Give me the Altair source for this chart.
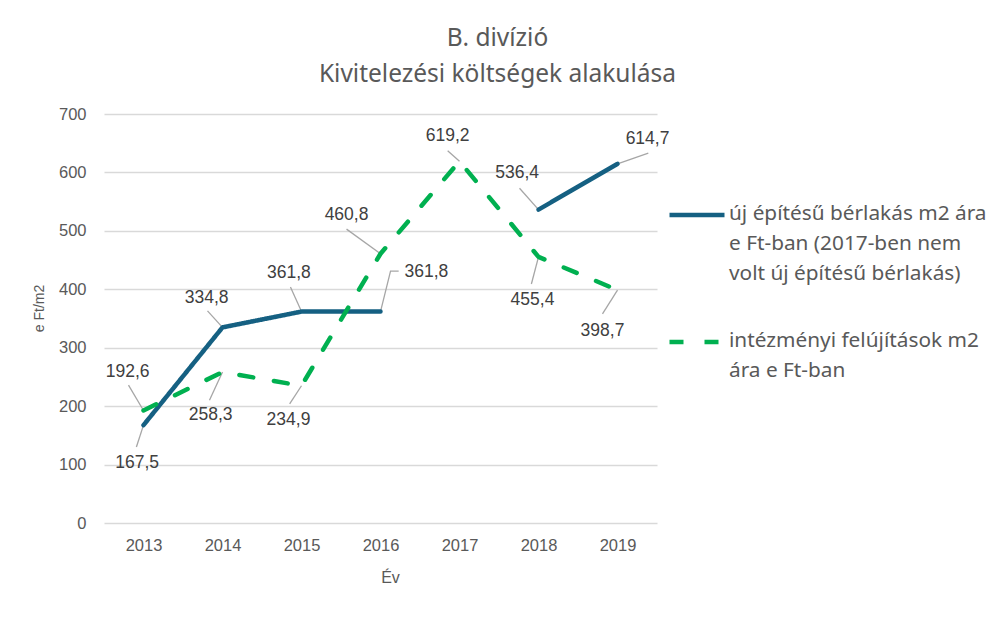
import altair as alt
import pandas as pd

# ---- data ----
years = [2013, 2014, 2015, 2016, 2017, 2018, 2019]
series_names = [
    "új építésű bérlakás m2 ára\ne Ft-ban (2017-ben nem\nvolt új építésű bérlakás)",
    "intézményi felújítások m2\nára e Ft-ban",
]
blue_values = [167.5, 334.8, 361.8, 361.8, None, 536.4, 614.7]
green_values = [192.6, 258.3, 234.9, 460.8, 619.2, 455.4, 398.7]

# data-label anchors (year offset, value) and leader-line vertices
blue_label_dx = [-0.08, -0.20, -0.16, 0.58, None, -0.27, 0.38]
blue_label_v = [102, 385, 428, 430, None, 599, 657]
blue_leader = [[(-0.09, 130)], [(-0.19, 363)], [(-0.14, 404)],
               [(0.127, 431), (0.23, 431)], None, [(-0.24, 573)], [(0.39, 633)]]
green_label_dx = [-0.20, -0.15, -0.165, -0.43, -0.15, -0.076, -0.19]
green_label_v = [258, 185, 176, 527, 662, 382, 329]
green_leader = [[(-0.19, 236)], [(-0.165, 210)], [(-0.15, 204)], [(-0.43, 503)],
                [(-0.15, 637)], [(-0.09, 409)], [(-0.19, 358)]]

colors = ["#156082", "#00B050"]
dashes = [[1, 0], [14, 21]]

# ---- tables ----
line_rows, label_rows, leader_rows = [], [], []
all_vals = [blue_values, green_values]
all_dx = [blue_label_dx, green_label_dx]
all_lv = [blue_label_v, green_label_v]
all_leader = [blue_leader, green_leader]
for s, name in enumerate(series_names):
    seg = 0
    for i, yr in enumerate(years):
        v = all_vals[s][i]
        if v is None:
            seg += 1
            continue
        line_rows.append({"year": yr, "value": v, "series": name, "seg": f"{s}-{seg}"})
        label_rows.append({"x": yr + all_dx[s][i], "y": all_lv[s][i],
                           "text": f"{v:.1f}".replace(".", ",")})
        pts = [(yr, v)] + [(yr + dx, vv) for dx, vv in all_leader[s][i]]
        for k, (px, py) in enumerate(pts):
            leader_rows.append({"x": px, "y": py, "id": f"{s}-{i}", "k": k})

lines_df = pd.DataFrame(line_rows)
labels_df = pd.DataFrame(label_rows)
leaders_df = pd.DataFrame(leader_rows)

xscale = alt.Scale(domain=[2012.5, 2019.5], nice=False, zero=False)
yscale = alt.Scale(domain=[0, 700], nice=False)

LABEL_DY = -11

leaders = alt.Chart(leaders_df).mark_line(color="#A6A6A6", strokeWidth=1.3).encode(
    x=alt.X("x:Q", scale=xscale),
    y=alt.Y("y:Q", scale=yscale),
    detail="id:N",
    order="k:Q",
)

lines = alt.Chart(lines_df).mark_line(strokeWidth=4.5, strokeCap="round", strokeJoin="round").encode(
    x=alt.X("year:Q", scale=xscale,
            axis=alt.Axis(values=years, format="d", title="Év", grid=False, domain=False,
                          ticks=False, labelPadding=14 - LABEL_DY, titlePadding=16,
                          titleX=286)),
    y=alt.Y("value:Q", scale=yscale,
            axis=alt.Axis(values=list(range(0, 701, 100)), title="e Ft/m2", domain=False,
                          ticks=False, labelPadding=18, labelOffset=-LABEL_DY,
                          titlePadding=12, titleFontSize=14, titleY=194)),
    color=alt.Color("series:N", scale=alt.Scale(domain=series_names, range=colors),
                    legend=alt.Legend(
                        title=None, orient="none", legendX=563, legendY=71,
                        symbolType="stroke", symbolSize=3025, symbolStrokeWidth=4.5,
                        labelFont="Noto Sans", labelFontSize=20.8, labelColor="#595959",
                        labelLimit=500, labelOffset=2, rowPadding=28, padding=0,
                        labelBaseline="top",
                        labelExpr="split(datum.label, '\\n')",
                    )),
    strokeDash=alt.StrokeDash("series:N", scale=alt.Scale(domain=series_names, range=dashes),
                              legend=None),
    detail="seg:N",
)

labels = alt.Chart(labels_df).mark_text(
    font="Liberation Sans", fontSize=17.5, color="#404040", align="center", baseline="middle"
).encode(
    x=alt.X("x:Q", scale=xscale),
    y=alt.Y("y:Q", scale=yscale),
    text="text:N",
)

chart = alt.layer(leaders, lines, labels).properties(
    width=553, height=409,
    autosize=alt.AutoSizeParams(type="none"),
    padding={"left": 96, "top": 106, "right": 332, "bottom": 87},
    title=alt.Title(["B. divízió", "Kivitelezési költségek alakulása"],
                    font="Noto Sans", fontSize=24.5, fontWeight="normal", color="#595959",
                    lineHeight=36, anchor="middle", dx=117, offset=19),
).configure(
    style={"guide-label": {"lineHeight": 30, "dy": LABEL_DY}},
    view=alt.ViewConfig(stroke=None),
    axis=alt.AxisConfig(
        labelFont="Liberation Sans", labelFontSize=16.5, labelColor="#595959",
        titleFont="Liberation Sans", titleFontSize=16, titleColor="#595959",
        titleFontWeight="normal", gridColor="#D9D9D9", gridWidth=1.3,
    ),
)

chart.save("out.html", embed_options={"renderer": "svg", "actions": False})
